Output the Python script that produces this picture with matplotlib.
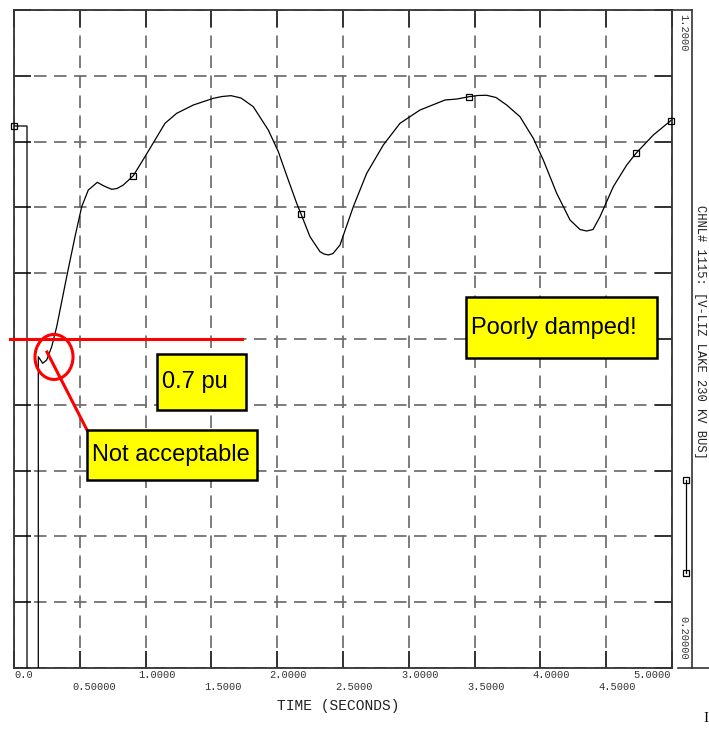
import numpy as np
import matplotlib.pyplot as plt
from matplotlib.patches import Rectangle, Ellipse
from matplotlib.lines import Line2D
import matplotlib.transforms as mtransforms

# bus voltage (pu) vs time (s)
time = [0.0, 0.0988, 0.0988, 0.1847, 0.1847, 0.218, 0.2485, 0.2865, 0.3245,
        0.4005, 0.4635, 0.5144, 0.5646, 0.633, 0.684, 0.7424, 0.7827, 0.8305,
        0.9065, 0.9954, 1.0714, 1.1474, 1.2363, 1.3624, 1.5144, 1.5805, 1.6489,
        1.7249, 1.8184, 1.9324, 2.0084, 2.0843, 2.1482, 2.1809, 2.2492, 2.3252,
        2.3556, 2.3883, 2.424, 2.4772, 2.5783, 2.6801, 2.8062, 2.9331, 3.0851,
        3.2751, 3.364, 3.4574, 3.5258, 3.5919, 3.6626, 3.7439, 3.845, 3.946,
        4.022, 4.1239, 4.2249, 4.3009, 4.3518, 4.3997, 4.4529, 4.554, 4.6558,
        4.7264, 4.8579, 4.9901]
volt = [1.0237, 1.0237, 0.0, 0.0, 0.6731, 0.6631, 0.6681, 0.6883, 0.7187,
        0.7947, 0.8555, 0.9011, 0.9264, 0.9381, 0.9325, 0.9275, 0.9287, 0.934,
        0.9482, 0.9771, 1.0024, 1.0278, 1.043, 1.0556, 1.0658, 1.0685, 1.0698,
        1.0663, 1.053, 1.0176, 0.9847, 0.9416, 0.9062, 0.89, 0.8555, 0.8327,
        0.8292, 0.8277, 0.8299, 0.8429, 0.9011, 0.9518, 0.9948, 1.0278, 1.048,
        1.0632, 1.0647, 1.0682, 1.0701, 1.0704, 1.067, 1.0556, 1.0378, 1.005,
        0.972, 0.9214, 0.8809, 0.8664, 0.8641, 0.8664, 0.8859, 0.9315, 0.9644,
        0.9822, 1.01, 1.0318]
mark_t = [0.0, 0.9065, 2.1809, 3.4574, 4.7264, 4.9901]
mark_v = [1.0237, 0.9482, 0.89, 1.0682, 0.9822, 1.0318]

xticks = [0.0, 0.5, 1.0, 1.5, 2.0, 2.5, 3.0, 3.5, 4.0, 4.5, 5.0]
xlabels = ['0.0', '0.50000', '1.0000', '1.5000', '2.0000', '2.5000',
           '3.0000', '3.5000', '4.0000', '4.5000', '5.0000']
yticks = [0.2, 0.3, 0.4, 0.5, 0.6, 0.7, 0.8, 0.9, 1.0, 1.1, 1.2]

W, H = 709, 730
fig = plt.figure(figsize=(W / 100, H / 100), dpi=100)
ax = fig.add_axes([14 / W, (H - 668) / H, (672 - 14) / W, (668 - 10) / H])
ax.set_xlim(0, 5.0)
ax.set_ylim(0.2, 1.2)

mono = 'Liberation Mono'
sans = 'Liberation Sans'

ax.set_xticks(xticks)
ax.set_yticks(yticks)
ax.set_xticklabels([])
ax.set_yticklabels([])
ax.tick_params(direction='in', length=12, width=1.4, color='#333333',
               top=True, right=True)
ax.grid(True, color='#666666', lw=1.2, linestyle=(0, (7.5, 4.5)))
for s in ax.spines.values():
    s.set_color('#333333')
    s.set_linewidth(1.3)

ax.plot(time, volt, color='black', lw=0.9, zorder=3)
ax.plot(mark_t, mark_v, ls='none', marker='s', ms=4.5, mfc='none',
        mec='black', mew=0.9, zorder=4, clip_on=False)

# annotations
ax.plot([-0.03, 1.73], [0.7, 0.7], color='#ff0000', lw=2.2, zorder=5,
        clip_on=False)
ax.add_patch(Ellipse((0.304, 0.6727), 0.289, 0.0684, fill=False,
                     ec='#ff0000', lw=2.2, zorder=5))
ax.plot([0.2508, 0.5547], [0.6802, 0.5617], color='#ff0000', lw=2.2, zorder=5)

boxes = [
    (0.5524, 0.4857, 1.8442, 0.5617, 'Not acceptable', 0.590),
    (1.0889, 0.5921, 1.7629, 0.6772, '0.7 pu', 1.1223),
    (3.4347, 0.6711, 4.8837, 0.7634, 'Poorly damped!', 3.4726),
]
for x0, y0, x1, y1, txt, tx in boxes:
    ax.add_patch(Rectangle((x0, y0), x1 - x0, y1 - y0, fc='#ffff00',
                           ec='black', lw=1.8, zorder=6))
    ax.text(tx, (y0 + y1) / 2, txt, fontsize=17, family=sans, ha='left',
            va='center', zorder=7)

# x tick labels, two staggered rows
tr = mtransforms.blended_transform_factory(ax.transData, fig.transFigure)
for i, (xv, lab) in enumerate(zip(xticks, xlabels)):
    yy = 1 - (675 if i % 2 == 0 else 687) / H
    if i == 0:
        ax.text(0.0, yy, lab, transform=tr, ha='left', va='center',
                family=mono, fontsize=7.5, color='#333333')
    elif i == len(xticks) - 1:
        ax.text(4.99, yy, lab, transform=tr, ha='right', va='center',
                family=mono, fontsize=7.5, color='#333333')
    else:
        ax.text(xv - 0.057, yy, lab, transform=tr, ha='left', va='center',
                family=mono, fontsize=7.5, color='#333333')

fig.text(338 / W, 1 - 706 / H, 'TIME (SECONDS)', ha='center', va='center',
         family=mono, fontsize=10.5, color='#222222')

# channel strip on the right
fig.text(683 / W, 1 - 14 / H, '1.2000', rotation=270, ha='center', va='top',
         family=mono, fontsize=7.5, color='#333333')
fig.text(683 / W, 1 - 660 / H, '0.20000', rotation=270, ha='center',
         va='bottom', family=mono, fontsize=7.5, color='#333333')
fig.text(700 / W, 1 - 332 / H, 'CHNL# 1115: [V-LIZ LAKE 230 KV BUS]',
         rotation=270, ha='center', va='center', family=mono, fontsize=8.7,
         color='#222222')
fig.add_artist(Line2D([672 / W, 692 / W], [1 - 10 / H, 1 - 10 / H],
                      color='#333333', lw=1.2))
fig.add_artist(Line2D([692 / W, 692 / W], [1 - 10 / H, 1 - 668 / H],
                      color='#333333', lw=1.2))
fig.add_artist(Line2D([678 / W, 709 / W], [1 - 668 / H, 1 - 668 / H],
                      color='#333333', lw=1.2))
fig.add_artist(Line2D([686 / W, 686 / W], [1 - 480 / H, 1 - 573 / H],
                      color='black', lw=0.9, marker='s', ms=4.5, mfc='none',
                      mew=0.9))

fig.text(706 / W, 1 - 718 / H, 'I', ha='center', va='center',
         family='Liberation Serif', fontsize=11, color='black')

fig.savefig('out.png', dpi=100, facecolor='white')
